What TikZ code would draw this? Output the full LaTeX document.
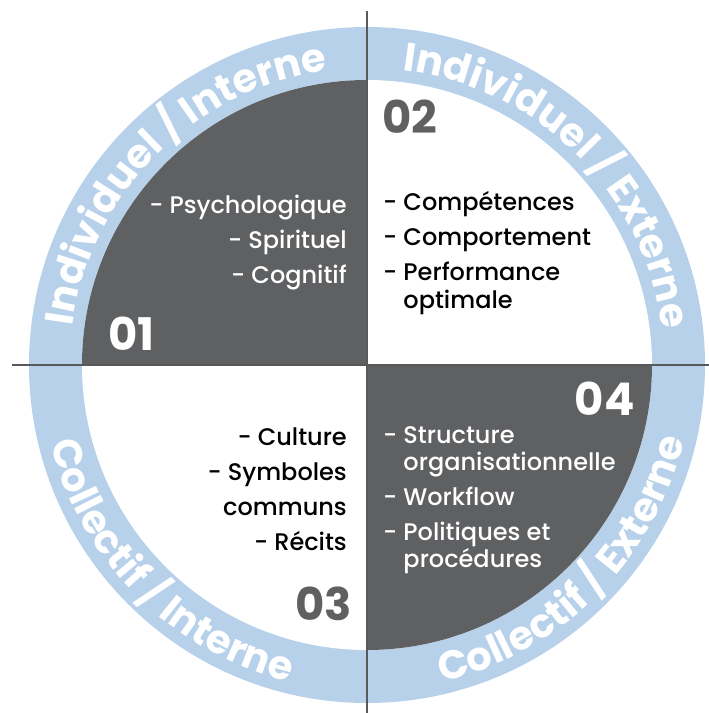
\documentclass[tikz,border=0pt]{standalone}
\usepackage{fontspec}
\setmainfont{Poppins}
\newfontfamily\medfont{Poppins Medium}
\usetikzlibrary{decorations.text}

\definecolor{quadgray}{HTML}{5F6062}
\definecolor{ringblue}{HTML}{B7D1EB}
\definecolor{axisgray}{HTML}{58595B}

\tikzset{
  ringlabel/.style={decorate, decoration={text along path, text align=center,
      text color=white, text={|\fontsize{40}{40}\selectfont\bfseries|#1}}},
  itemlist/.style={font=\medfont\fontsize{24}{35}\selectfont, inner sep=0pt},
  quadnum/.style={font=\fontsize{45}{45}\selectfont\bfseries, inner sep=0pt},
}

\begin{document}
\begin{tikzpicture}[x=1pt,y=1pt]
  \useasboundingbox (-367,-348) rectangle (342,365);

  % Ring
  \fill[ringblue] (0,0) circle (338);
  \fill[white] (0,0) circle (285);

  % Dark quadrants
  \fill[quadgray] (0,0) -- (90:285) arc[start angle=90, end angle=180, radius=285] -- cycle;
  \fill[quadgray] (0,0) -- (270:285) arc[start angle=270, end angle=360, radius=285] -- cycle;

  % Axes
  \coordinate (top) at (0,354);
  \coordinate (bottom) at (0,-348);
  \coordinate (left) at (-355,0);
  \coordinate (right) at (342,0);
  \draw[axisgray, line width=1.4pt] (top) -- (bottom);
  \draw[axisgray, line width=1.4pt] (left) -- (right);

  % Ring labels
  \path[ringlabel={Individuel / Interne}] (180:297) arc[start angle=180, end angle=90, radius=297];
  \path[ringlabel={Individuel / Externe}] (90:297) arc[start angle=90, end angle=0, radius=297];
  \path[ringlabel={Collectif / Interne}] (180:326) arc[start angle=180, end angle=270, radius=326];
  \path[ringlabel={Collectif / Externe}] (270:326) arc[start angle=270, end angle=360, radius=326];

  % Quadrant 01
  \node[quadnum, white, anchor=base west] (num1) at (-259,15) {01};
  \node[itemlist, white, align=right, anchor=base east] (list1) at (-20,82)
    {- Psychologique\\- Spirituel\\- Cognitif};

  % Quadrant 02
  \node[quadnum, quadgray, anchor=base west] (num2) at (15,232) {02};
  \node[itemlist, black, align=left, anchor=base west] (list2) at (16,57)
    {- Compétences\\- Comportement\\- Performance\\[-7pt]\hphantom{- }optimale};

  % Quadrant 03
  \node[quadnum, quadgray, anchor=base east] (num3) at (-15,-255) {03};
  \node[itemlist, black, align=right, anchor=base east] (list3) at (-20,-185)
    {- Culture\\- Symboles\\communs\\- Récits};

  % Quadrant 04
  \node[quadnum, white, anchor=base east] (num4) at (268,-50) {04};
  \node[itemlist, white, align=left, anchor=base west] (list4) at (16,-202)
    {- Structure\\[-8pt]\hphantom{- }organisationnelle\\- Workflow\\- Politiques et\\[-8pt]\hphantom{- }procédures};
\end{tikzpicture}
\end{document}
